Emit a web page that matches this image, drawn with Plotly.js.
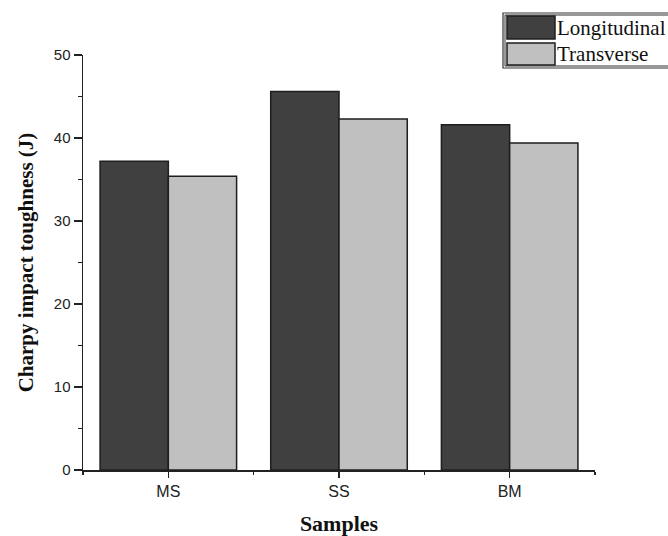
<!DOCTYPE html>
<html>
<head>
<meta charset="utf-8">
<script src="https://cdn.plot.ly/plotly-3.0.1.min.js"></script>
<style>html,body{margin:0;padding:0;background:#fff;}#chart{width:668px;height:536px;}</style>
</head>
<body>
<div id="chart"></div>
<script>
const categories = ["MS", "SS", "BM"];
const longitudinal = [37.2, 45.6, 41.6];
const transverse = [35.4, 42.3, 39.4];
const seriesNames = ["Longitudinal", "Transverse"];
const yTicks = [0, 10, 20, 30, 40, 50];

const xpos = categories.map((c, i) => i);
const darkFill = "#404040", lightFill = "#c0c0c0", edge = "#1e1e1e";

const traces = [
  {type: "bar", name: seriesNames[0], x: xpos, y: longitudinal,
   marker: {color: darkFill, line: {color: edge, width: 1.5}}, showlegend: false},
  {type: "bar", name: seriesNames[1], x: xpos, y: transverse,
   marker: {color: lightFill, line: {color: edge, width: 1.5}}, showlegend: false}
];

// legend drawn as shapes in paper coords
const L = 83, R = 595, T = 55, B = 470;
const px = v => (v - L) / (R - L);
const py = v => (B - v) / (B - T);
const shapes = [
  {type: "rect", xref: "paper", yref: "paper", x0: px(503), x1: px(700), y0: py(68), y1: py(13),
   line: {color: "#333", width: 1.2}, fillcolor: "#fff"},
  {type: "rect", xref: "paper", yref: "paper", x0: px(505), x1: px(700), y0: py(66), y1: py(15),
   line: {color: "#333", width: 1}, fillcolor: "rgba(0,0,0,0)"},
  {type: "rect", xref: "paper", yref: "paper", x0: px(507), x1: px(555), y0: py(39), y1: py(16),
   line: {color: edge, width: 1.5}, fillcolor: darkFill},
  {type: "rect", xref: "paper", yref: "paper", x0: px(507), x1: px(555), y0: py(65), y1: py(43),
   line: {color: edge, width: 1.5}, fillcolor: lightFill}
];
const annotations = [
  {xref: "paper", yref: "paper", x: px(555), y: py(27.5), xanchor: "left", yanchor: "middle",
   text: seriesNames[0], showarrow: false, font: {family: "Liberation Serif", size: 21, color: "#111"}},
  {xref: "paper", yref: "paper", x: px(555), y: py(54), xanchor: "left", yanchor: "middle",
   text: seriesNames[1], showarrow: false, font: {family: "Liberation Serif", size: 21, color: "#111"}}
];

const layout = {
  width: 668, height: 536,
  margin: {l: 83, r: 73, t: 55, b: 66, pad: 0},
  paper_bgcolor: "#fff", plot_bgcolor: "#fff",
  barmode: "group", bargap: 0.2, bargroupgap: 0,
  showlegend: false,
  xaxis: {
    range: [-0.5, 2.5], tickvals: xpos, ticktext: categories,
    showgrid: false, zeroline: false, showline: true, linecolor: "#222", linewidth: 1.5,
    ticks: "outside", ticklen: 6, tickwidth: 1.2, tickcolor: "#222",
    tickfont: {family: "Liberation Sans", size: 16, color: "#222"},
    minor: {tick0: 0.5, dtick: 1, ticks: "outside", ticklen: 3, tickwidth: 1.2, tickcolor: "#222", showgrid: false},
    title: {text: "<b>Samples</b>", standoff: 18, font: {family: "Liberation Serif", size: 22, color: "#111"}}
  },
  yaxis: {
    range: [0, 50], tickvals: yTicks, ticktext: yTicks.map(String),
    showgrid: false, zeroline: false, showline: true, linecolor: "#222", linewidth: 1.5,
    ticks: "outside", ticklen: 8, tickwidth: 1.2, tickcolor: "#222",
    tickfont: {family: "Liberation Sans", size: 15, color: "#222"},
    minor: {dtick: 5, ticks: "outside", ticklen: 4, tickwidth: 1.2, tickcolor: "#222", showgrid: false},
    title: {text: "<b>Charpy impact toughness (J)</b>", standoff: 14, font: {family: "Liberation Serif", size: 21, color: "#111"}}
  },
  shapes: shapes,
  annotations: annotations
};

Plotly.newPlot("chart", traces, layout, {displayModeBar: false, staticPlot: true});
</script>
</body>
</html>
